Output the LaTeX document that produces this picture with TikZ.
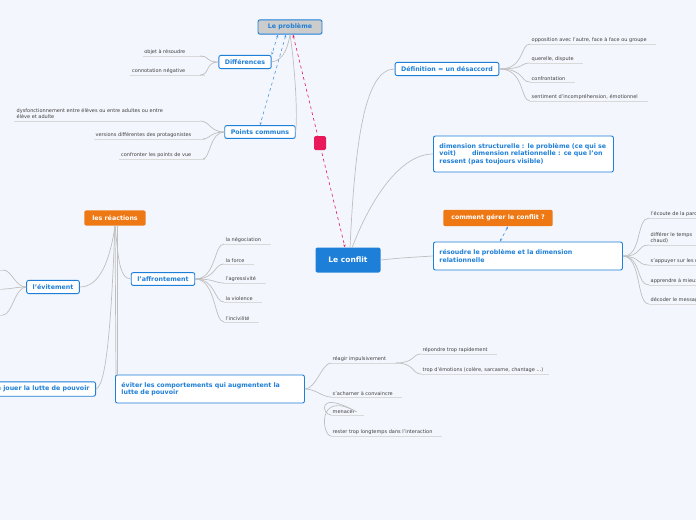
\documentclass[tikz,border=0pt]{standalone}
\usepackage{fontspec}
\setmainfont{DejaVu Sans}
\usetikzlibrary{arrows.meta}
\definecolor{bg}{HTML}{F3F6FD}
\definecolor{tb}{HTML}{1E7FD8}
\definecolor{org}{HTML}{EE7814}
\definecolor{pk}{HTML}{E8185A}
\tikzset{
 topic/.style={draw=tb,line width=0.9pt,fill=white,rounded corners=2pt,text=tb,font=\bfseries\fontsize{6.3}{7.5}\selectfont,inner xsep=6pt,inner ysep=4pt,align=left},
 orangebox/.style={fill=org,rounded corners=2pt,text=white,font=\bfseries\fontsize{6.3}{7.5}\selectfont,inner xsep=8pt,inner ysep=5pt},
 leaf/.style={text=black!75,font=\fontsize{5}{6.2}\selectfont,inner sep=1.5pt,align=left},
 conn/.style={draw=black!25,line width=0.7pt},
 uline/.style={draw=black!15,line width=0.7pt},
 rel/.style={tb!80,dashed,line width=0.6pt,{Stealth[length=3pt]}-{Stealth[length=3pt]}},
}
\newcommand{\lf}[4]{%
 \node[leaf,anchor=south west] (#1) at (#2,#3) {#4};
 \draw[uline] (#1.south west) -- (#1.south east);}
\newcommand{\lfl}[4]{%
 \node[leaf,anchor=south east] (#1) at (#2,#3) {#4};
 \draw[uline] (#1.south west) -- (#1.south east);}
\hyphenpenalty=10000
\begin{document}
\begin{tikzpicture}[x=1pt,y=-1pt]
\useasboundingbox (0,0) rectangle (696,520);
\clip (0,0) rectangle (696,520);
\fill[bg] (0,0) rectangle (696,520);

% main nodes
\node[topic,fill=black!20,minimum width=64pt] (prob) at (290,27) {Le problème};
\node[topic] (diff) at (245,62) {Différences};
\node[topic] (pc) at (260,132) {Points communs};
\node[fill=tb,rounded corners=2pt,text=white,font=\bfseries\fontsize{7.5}{9}\selectfont,minimum width=65pt,minimum height=25pt] (conf) at (348,260) {Le conflit};
\node[topic] (def) at (447,69) {Définition = un désaccord};
\node[topic,anchor=west,text width=168pt,minimum height=36pt] (dim) at (433,154) {dimension structurelle : le problème (ce qui se voit)\hspace{14pt} dimension relationnelle : ce que l'on ressent (pas toujours visible)};
\node[orangebox] (cg) at (498,218) {comment gérer le conflit ?};
\node[topic,anchor=west,text width=177pt,minimum height=28pt] (res) at (433,256) {résoudre le problème et la dimension relationnelle};
\node[orangebox] (reac) at (115,218) {les réactions};
\node[topic] (aff) at (163,279) {l'affrontement};
\node[topic] (evit) at (53,287) {l'évitement};
\node[topic,anchor=east] (lut) at (96,389) {éviter de jouer la lutte de pouvoir};
\node[topic,anchor=west,text width=177pt,minimum height=28pt] (evc) at (115,389) {éviter les comportements qui augmentent la lutte de pouvoir};

% problem links
\draw[conn] (prob.south) .. controls (288,45) and (285,60) .. (diff.east);
\draw[conn] (prob.south) .. controls (294,60) and (298,110) .. (pc.east);
\draw[rel] ([xshift=-12pt]prob.south) -- (diff.north east);
\draw[rel] ([xshift=-4pt]prob.south) -- (pc.north);
\draw[pk,dashed,line width=0.6pt,{Stealth[length=3pt]}-{Stealth[length=3pt]}] ([xshift=3pt]prob.south) -- ([xshift=-3pt]conf.north);
\node[fill=pk,rounded corners=1.5pt,minimum width=12pt,minimum height=14pt,inner sep=0pt] (pink) at (320,143) {};

% conflit links
\draw[conn] (350,248) .. controls (355,140) and (365,69) .. (def.west);
\draw[conn] (352,248) .. controls (370,200) and (400,154) .. (dim.west);
\draw[conn] (conf.east) .. controls (400,258) .. (res.west);
\draw[rel] ([xshift=10pt]cg.south) -- ([xshift=-28pt]res.north);

% Différences leaves
\lfl{d1}{187}{56}{objet à résoudre}
\lfl{d2}{187}{75}{connotation négative}
\draw[uline] (d1.south east) -- (205,56); \draw[uline] (d2.south east) -- (205,75);
\draw[conn] (diff.west) .. controls (205,62) and (210,56) .. (200,56);
\draw[conn] (diff.west) .. controls (205,62) and (210,75) .. (200,75);

% Points communs leaves
\node[leaf,anchor=south west] (p1) at (15,120) {dysfonctionnement entre élèves ou entre adultes ou entre\\élève et adulte};
\draw[uline] (14,121) -- (200,121);
\lfl{p2}{193}{139}{versions différentes des protagonistes}
\lfl{p3}{193}{159}{confronter les points de vue}
\draw[uline] (p2.south east) -- (205,139); \draw[uline] (p3.south east) -- (205,159);
\draw[conn] (pc.west) .. controls (210,132) and (210,121) .. (200,121);
\draw[conn] (pc.west) .. controls (210,132) and (210,139) .. (203,139);
\draw[conn] (pc.west) .. controls (210,132) and (210,159) .. (203,159);

% Définition leaves
\foreach \n/\y/\t in {a/44/{opposition avec l'autre, face à face ou groupe},b/63/{querelle, dispute},c/82/{confrontation},e/101/{sentiment d'incompréhension, émotionnel}}{
 \node[leaf,anchor=south west] (def\n) at (530,\y) {\t};
 \draw[uline] (def\n.south west) -- ([xshift=8pt]def\n.south east);
 \draw[conn] (def.east) .. controls (525,69) and (520,\y) .. (def\n.south west);
}

% Résoudre leaves
\foreach \n/\y/\t in {a/218/{l'écoute de la parole},b/245/{différer le temps\\chaud)},c/265/{s'appuyer sur les règles},d/285/{apprendre à mieux},e/304/{décoder le message}}{
 \node[leaf,anchor=south west] (res\n) at (649,\y) {\t};
 \draw[uline] (res\n.south west) -- (700,\y);
 \draw[conn] (res.east) .. controls (642,257) and (636,\y) .. (res\n.south west);
}

% réactions links
\draw[conn] (reac.south) .. controls (110,260) and (100,287) .. (evit.east);
\draw[conn] (reac.south) .. controls (118,250) and (118,279) .. (aff.west);
\draw[conn] (reac.south) .. controls (112,300) and (108,385) .. (lut.east);
\draw[conn] (reac.south) -- (116,375);
\draw[conn] ([xshift=2pt]reac.south) -- (117,375);

% évitement leaves (off canvas)
\foreach \y in {270,289,315}{
 \draw[uline] (-20,\y) -- (3,\y);
 \draw[conn] (evit.west) .. controls (15,287) and (12,\y) .. (3,\y);
}

% affrontement leaves
\foreach \n/\y/\t in {a/244/{la négociation},b/264/{la force},c/283/{l'agressivité},d/302/{la violence},e/322/{l'incivilité}}{
 \node[leaf,anchor=south west] (af\n) at (224,\y) {\t};
 \draw[uline] (af\n.south west) -- ([xshift=8pt]af\n.south east);
 \draw[conn] (aff.east) .. controls (216,279) and (214,\y) .. (af\n.south west);
}

% éviter leaves
\foreach \n/\y/\t in {a/363/{réagir impulsivement},b/397/{s'acharner à convaincre},c/415/{menacer},d/436/{rester trop longtemps dans l'interaction}}{
 \node[leaf,anchor=south west] (ev\n) at (331,\y) {\t};
 \draw[uline] (ev\n.south west) -- ([xshift=8pt]ev\n.south east);
 \draw[conn] (evc.east) .. controls (316,389) and (322,\y) .. (ev\n.south west);
}
\lf{r1}{421}{354}{répondre trop rapidement}
\lf{r2}{421}{374}{trop d'émotions (colère, sarcasme, chantage ...)}
\draw[uline] (r1.south east) -- ++(8,0); \draw[uline] (r2.south east) -- ++(4,0);
\draw[conn] ([xshift=8pt]eva.south east) .. controls (415,363) and (412,354) .. (r1.south west);
\draw[conn] ([xshift=8pt]eva.south east) .. controls (415,363) and (412,374) .. (r2.south west);
\end{tikzpicture}
\end{document}
